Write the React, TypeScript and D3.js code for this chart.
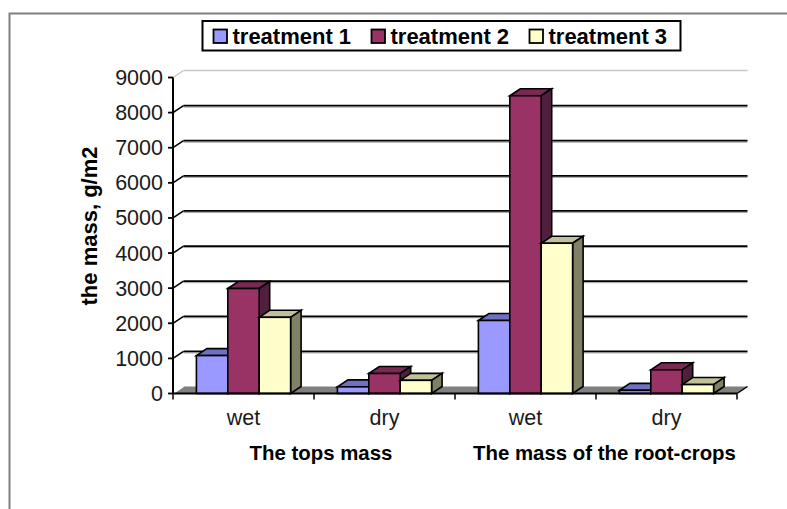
import React from "react";
import * as d3 from "d3";

const categories = ["wet", "dry", "wet", "dry"];
const seriesNames = ["treatment 1", "treatment 2", "treatment 3"];
const treatment1 = [1080, 190, 2080, 90];
const treatment2 = [2990, 570, 8480, 675];
const treatment3 = [2170, 375, 4280, 255];
const seriesValues = [treatment1, treatment2, treatment3];
const frontColors = ["#9999FF", "#993366", "#FFFFCC"];
const topColors = ["#7070C0", "#7A2952", "#C0C09A"];
const sideColors = ["#4D4D80", "#4F1F3D", "#808066"];
const yTicks = [0, 1000, 2000, 3000, 4000, 5000, 6000, 7000, 8000, 9000];
const groupLabels = [
  { text: "The tops mass", cx: 321 },
  { text: "The mass of the root-crops", cx: 604.5 },
];

const W = 787, H = 509;
const DX = 10.5, DY = 7;
const FONT = "'Liberation Sans', Arial, sans-serif";

const y = d3.scaleLinear().domain([0, 9000]).range([393.5, 77.5]);
const x = d3.scaleBand<number>().domain(d3.range(categories.length)).range([173, 737]).paddingInner(0).paddingOuter(0);
const barW = 31.4;

function poly(points: [number, number][]) {
  return d3.line()(points)! + "Z";
}

export default function App() {
  const left = x.range()[0], right = x.range()[1], base = y(0);
  return (
    <svg width={W} height={H} style={{ position: "absolute", left: 0, top: 0, background: "#fff" }} fontFamily={FONT}>
      <path d={`M9.5,${H}V13.5H${W}`} fill="none" stroke="#808080" strokeWidth={2} />

      {/* floor */}
      <path d={poly([[left, base], [left + DX, base - DY], [right + DX, base - DY], [right, base]])} fill="#808080" />

      {/* walls */}
      {yTicks.map((t) => {
        const top = t === 9000;
        const col = top ? "#c8c8c8" : "#000";
        return (
          <g key={t}>
            {t > 0 && !top && (
              <line x1={left + DX} x2={right + DX} y1={y(t) - DY + 1.5} y2={y(t) - DY + 1.5} stroke="#a0a0a0" strokeWidth={1} />
            )}
            {t > 0 && (
              <line x1={left + DX} x2={right + DX} y1={y(t) - DY} y2={y(t) - DY} stroke={col} strokeWidth={top ? 1.5 : 1.8} />
            )}
            <line x1={left} x2={left + DX} y1={y(t)} y2={y(t) - DY} stroke={t === 0 ? "#fff" : col} strokeWidth={1.5} />
          </g>
        );
      })}
      <line x1={right} x2={right + DX} y1={base} y2={base - DY} stroke="#000" strokeWidth={1.5} />

      {/* bars */}
      {categories.map((_, c) =>
        seriesValues.map((vals, s) => {
          const cx = x(c)! + x.bandwidth() / 2;
          const x0 = cx + (s - 1.5) * barW;
          const x1 = x0 + barW;
          const y1 = y(vals[c]);
          return (
            <g key={`${c}-${s}`} stroke="#000" strokeWidth={1.6} strokeLinejoin="miter">
              <path d={poly([[x0, y1], [x0 + DX, y1 - DY], [x1 + DX, y1 - DY], [x1, y1]])} fill={topColors[s]} />
              <path d={poly([[x1, y1], [x1 + DX, y1 - DY], [x1 + DX, base - DY], [x1, base]])} fill={sideColors[s]} />
              <rect x={x0} y={y1} width={barW} height={base - y1} fill={frontColors[s]} />
            </g>
          );
        })
      )}

      {/* axes */}
      <line x1={left} x2={left} y1={y(9000)} y2={base} stroke="#000" strokeWidth={2} />
      <line x1={left} x2={right} y1={base} y2={base} stroke="#000" strokeWidth={2} />
      {yTicks.map((t) => (
        <g key={t}>
          <line x1={left - 5} x2={left} y1={y(t)} y2={y(t)} stroke="#000" strokeWidth={1.8} />
          <text x={163} y={y(t) + 7.5} textAnchor="end" fontSize={21.5} fill="#1a1a1a">{t}</text>
        </g>
      ))}
      {d3.range(categories.length + 1).map((i) => {
        const px = left + i * x.bandwidth();
        return <line key={i} x1={px} x2={px} y1={base} y2={base + 6} stroke="#000" strokeWidth={1.5} />;
      })}
      {categories.map((c, i) => (
        <text key={i} x={x(i)! + x.bandwidth() / 2} y={425} textAnchor="middle" fontSize={21.5} fill="#1a1a1a">{c}</text>
      ))}
      {groupLabels.map((g) => (
        <text key={g.text} x={g.cx} y={460} textAnchor="middle" fontSize={20.4} fontWeight="bold" fill="#000">{g.text}</text>
      ))}
      <text transform="translate(97,226) rotate(-90)" textAnchor="middle" fontSize={22} fontWeight="bold" fill="#000">the mass, g/m2</text>

      {/* legend */}
      <rect x={202.5} y={21} width={478} height={29.5} fill="#fff" stroke="#000" strokeWidth={2} />
      {seriesNames.map((n, i) => {
        const sw = [213.5, 371.5, 529.5][i];
        return (
          <g key={n}>
            <rect x={sw} y={29.5} width={13.5} height={13.5} fill={frontColors[i]} stroke="#000" strokeWidth={1.8} />
            <text x={sw + 19} y={44} fontSize={22} fontWeight="bold" fill="#000">{n}</text>
          </g>
        );
      })}
    </svg>
  );
}
